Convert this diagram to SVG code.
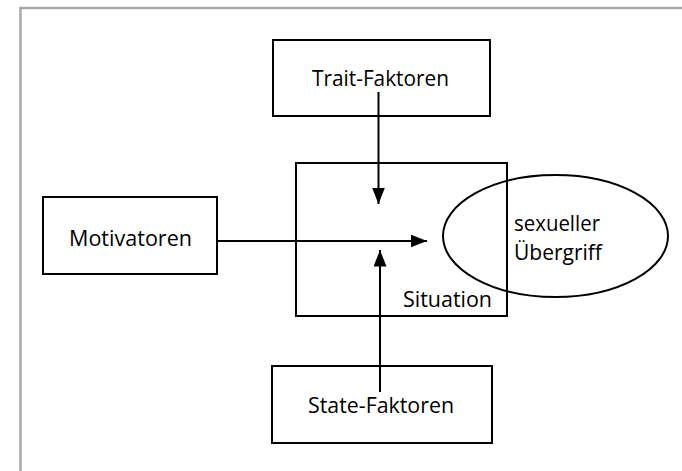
<svg xmlns="http://www.w3.org/2000/svg" width="682" height="471" viewBox="0 0 682 471">
<style>
.box{fill:#fff;stroke:#000;stroke-width:2}
.lbl{font-family:"Open Sans","Liberation Sans",sans-serif;font-size:21px;fill:#000}
.mid{text-anchor:middle}
.conn{stroke:#000;stroke-width:2;fill:none}
</style>
<defs>
<marker id="arr" markerUnits="userSpaceOnUse" markerWidth="17" markerHeight="13" refX="16.5" refY="6.5" orient="auto">
<path d="M0,0 L16.5,6.5 L0,13 z" fill="#000"/>
</marker>
</defs>
<rect x="20.5" y="8" width="700" height="500" fill="#fff" stroke="#a8a8a8" stroke-width="2.5"/>
<g id="situation">
<rect class="box" x="296" y="163" width="211" height="153"/>
<text class="lbl" x="403" y="307" textLength="89" lengthAdjust="spacingAndGlyphs">Situation</text>
</g>
<g id="uebergriff">
<ellipse cx="555.5" cy="236" rx="112.5" ry="61" fill="none" stroke="#000" stroke-width="2"/>
<text class="lbl" x="514" y="231" textLength="86" lengthAdjust="spacingAndGlyphs">sexueller</text>
<text class="lbl" x="514" y="260" textLength="88" lengthAdjust="spacingAndGlyphs">Übergriff</text>
</g>
<g id="trait">
<rect class="box" x="273" y="40" width="217" height="76"/>
<text class="lbl" x="312" y="86" textLength="137" lengthAdjust="spacingAndGlyphs">Trait-Faktoren</text>
</g>
<g id="motivatoren">
<rect class="box" x="43" y="197" width="174" height="77"/>
<text class="lbl" x="69" y="246" textLength="123" lengthAdjust="spacingAndGlyphs">Motivatoren</text>
</g>
<g id="state">
<rect class="box" x="272" y="366" width="220" height="77"/>
<text class="lbl" x="308" y="413" textLength="146" lengthAdjust="spacingAndGlyphs">State-Faktoren</text>
</g>
<g id="connectors">
<line class="conn" x1="378.5" y1="92" x2="378.5" y2="204" marker-end="url(#arr)"/>
<line class="conn" x1="217" y1="241" x2="427" y2="241" marker-end="url(#arr)"/>
<line class="conn" x1="380" y1="392" x2="380" y2="250" marker-end="url(#arr)"/>
</g>
</svg>
